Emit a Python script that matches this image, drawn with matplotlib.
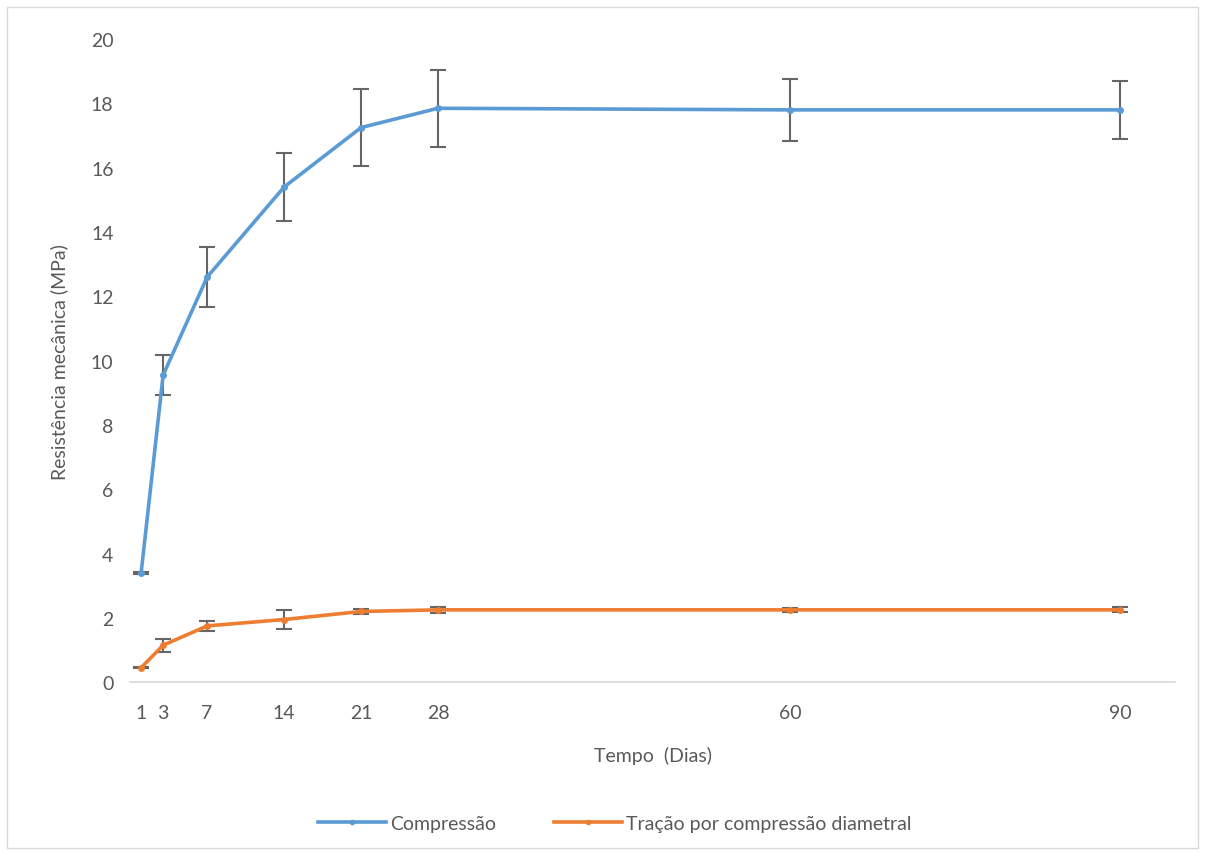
import matplotlib
matplotlib.use("Agg")
import matplotlib.pyplot as plt
from matplotlib.patches import Rectangle
from matplotlib.lines import Line2D

plt.rcParams['font.family'] = ['Lato', 'DejaVu Sans']

# Data
dias = [1, 3, 7, 14, 21, 28, 60, 90]
compressao = [3.4, 9.55, 12.6, 15.4, 17.25, 17.85, 17.8, 17.8]
compressao_err = [0.03, 0.62, 0.93, 1.07, 1.2, 1.2, 0.97, 0.9]
tracao = [0.45, 1.15, 1.75, 1.95, 2.2, 2.25, 2.25, 2.25]
tracao_err = [0.02, 0.2, 0.15, 0.3, 0.07, 0.1, 0.07, 0.08]
xticks = [1, 3, 7, 14, 21, 28, 60, 90]

blue = "#5B9BD5"
orange = "#ED7D31"
gray = "#595959"

fig = plt.figure(figsize=(12.05, 8.54), dpi=100)
ax = fig.add_axes([0.108, 0.2, 0.867, 0.753])

ax.errorbar(dias, compressao, yerr=compressao_err, color=blue, lw=2.6,
            marker='o', ms=4, ecolor="#666666", elinewidth=1.5, capsize=6,
            capthick=1.5, zorder=3)
ax.errorbar(dias, tracao, yerr=tracao_err, color=orange, lw=2.6,
            marker='o', ms=4, ecolor="#666666", elinewidth=1.5, capsize=6,
            capthick=1.5, zorder=3)

ax.set_xlim(0, 95)
ax.set_ylim(0, 20)
ax.set_xticks(xticks)
ax.set_yticks(range(0, 21, 2))
ax.tick_params(length=0, labelsize=14, colors=gray, pad=12)
ax.tick_params(axis='x', pad=16)

for s in ['top', 'right', 'left']:
    ax.spines[s].set_visible(False)
ax.spines['bottom'].set_color("#d9d9d9")
ax.spines['bottom'].set_linewidth(1.2)

ax.set_xlabel("Tempo  (Dias)", fontsize=14, color=gray, labelpad=18)
ax.set_ylabel("Resistência mecânica (MPa)", fontsize=14, color=gray, labelpad=16)

handles = [Line2D([], [], color=blue, lw=2.6, marker='o', ms=3),
           Line2D([], [], color=orange, lw=2.6, marker='o', ms=3)]
labels = ["Compressão", "Tração por compressão diametral"]
fig.legend(handles, labels, loc='center', bbox_to_anchor=(0.51, 0.035), ncol=2,
           frameon=False, fontsize=14, labelcolor=gray, handlelength=3.5,
           columnspacing=3, handletextpad=0.2)

fig.patches.append(Rectangle((0.006, 0.006), 0.988, 0.985, transform=fig.transFigure,
                             fill=False, edgecolor="#d9d9d9", lw=1))

plt.savefig("out.png", dpi=100)
